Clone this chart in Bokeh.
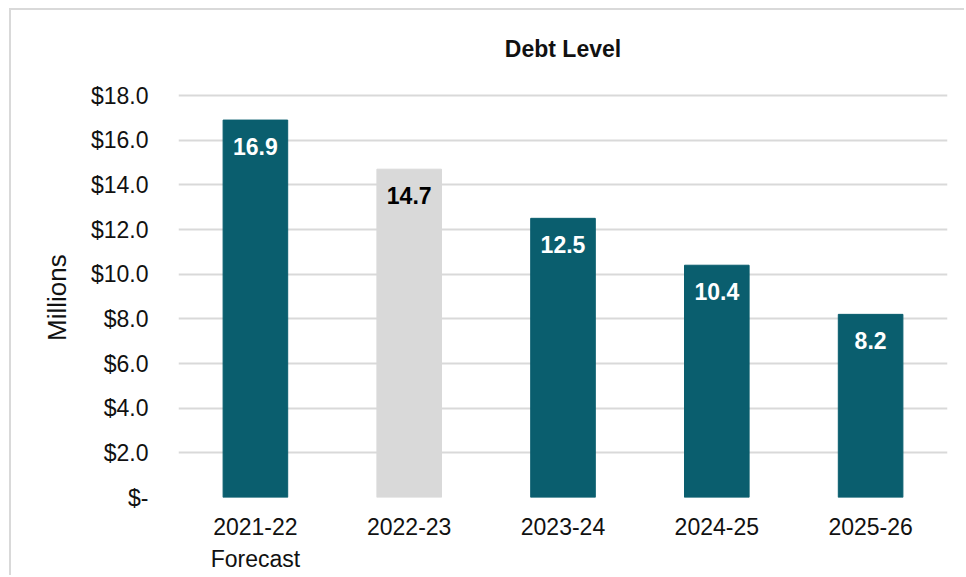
from bokeh.plotting import figure
from bokeh.models import (ColumnDataSource, FixedTicker, FactorRange,
                          CategoricalAxis, CustomJSTickFormatter, Label)
from bokeh.embed import file_html
from bokeh.resources import INLINE
from bokeh.core.properties import value

# ---- data ----
years = ["2021-22", "2022-23", "2023-24", "2024-25", "2025-26"]
year_sublabels = ["Forecast", "", "", "", ""]
debt = [16.9, 14.7, 12.5, 10.4, 8.2]
bar_colors = ["#0a5e6e", "#d9d9d9", "#0a5e6e", "#0a5e6e", "#0a5e6e"]
label_colors = ["white", "black", "white", "white", "white"]
y_ticks = [0, 2, 4, 6, 8, 10, 12, 14, 16, 18]
y_tick_labels = ["$-", "$2.0", "$4.0", "$6.0", "$8.0", "$10.0", "$12.0",
                 "$14.0", "$16.0", "$18.0"]
title_text = "Debt Level"
y_title = "Millions"

FONT = "Liberation Sans"
GRID = "#d9d9d9"
TXT = "#111111"

# layout: frame spans canvas y 25..497 (window coords); value 18 sits at y=95
PX_PER_UNIT = (497 - 95) / 18.0
Y_TOP = (497 - 25) / PX_PER_UNIT
TITLE_Y = (497 - 48) / PX_PER_UNIT

src = ColumnDataSource(dict(x=years, top=debt, color=bar_colors,
                            lcolor=label_colors,
                            text=[f"{v:.1f}" for v in debt]))

p = figure(x_range=FactorRange(*years), y_range=(0, Y_TOP),
           width=955, height=567, output_backend="svg", toolbar_location=None,
           min_border_left=167, min_border_right=19, min_border_top=15,
           min_border_bottom=80, margin=(8, 0, 0, 9))
p.styles = {"border-top": "2px solid #d9d9d9", "border-left": "2px solid #d9d9d9"}
p.outline_line_color = None
p.background_fill_color = "white"
p.border_fill_color = "white"

p.vbar(x="x", top="top", width=0.42, color="color", source=src)
p.text(x="x", y="top", text="text", text_color="lcolor", source=src,
       text_font=value(FONT), text_font_style="bold", text_font_size="23px",
       text_align="center", text_baseline="middle", y_offset=26)

p.add_layout(Label(x=len(years) / 2, y=TITLE_Y, text=title_text,
                   text_font=FONT, text_font_size="23px",
                   text_font_style="bold", text_color=TXT,
                   text_align="center", text_baseline="middle"))

# grid
p.xgrid.grid_line_color = None
p.ygrid.grid_line_color = GRID
p.ygrid.grid_line_width = 2
p.yaxis.ticker = FixedTicker(ticks=y_ticks)
p.yaxis.major_label_overrides = {t: l for t, l in zip(y_ticks, y_tick_labels)}

ax2 = CategoricalAxis()
ax2.formatter = CustomJSTickFormatter(
    args=dict(keys=years, subs=year_sublabels),
    code="const i = keys.indexOf(tick); return i >= 0 ? subs[i] : '';")
p.add_layout(ax2, "below")

for ax in (p.xaxis + p.yaxis):
    ax.axis_line_color = None
    ax.major_tick_line_color = None
    ax.minor_tick_line_color = None
    ax.major_label_text_font = FONT
    ax.major_label_text_font_size = "23px"
    ax.major_label_text_color = TXT

p.xaxis[0].major_label_standoff = 14
ax2.major_label_standoff = 2
p.yaxis.major_label_standoff = 24
# trailing non-breaking spaces shift the rotated label down to the
# centre of the 0..18 value span (the frame extends above it for the title)
p.yaxis.axis_label = y_title + "\u00a0" * 10
p.yaxis.axis_label_text_font = FONT
p.yaxis.axis_label_text_font_size = "26px"
p.yaxis.axis_label_text_font_style = "normal"
p.yaxis.axis_label_text_color = TXT
p.yaxis.axis_label_standoff = 16

open("out.html", "w").write(file_html(p, INLINE))
